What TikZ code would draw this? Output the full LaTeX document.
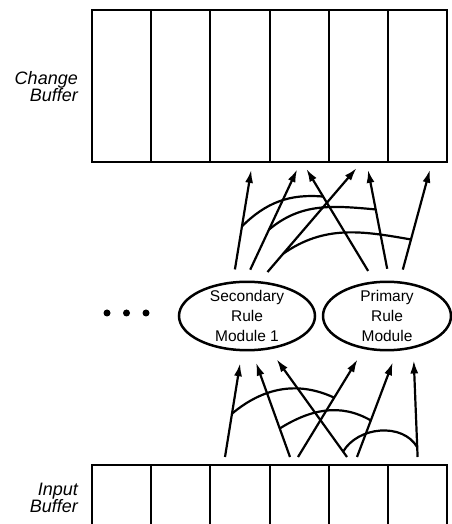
\documentclass[tikz,border=0pt]{standalone}
\usepackage{fontspec}
\setsansfont{Liberation Sans}
\usetikzlibrary{arrows.meta,shapes.geometric}
\tikzset{
    buffer-cell/.style = {draw, line width=1.9pt, rectangle, inner sep=0pt, outer sep=0pt, minimum width=59.2pt},
    buffer-label/.style = {anchor=east, inner sep=0pt, align=right, font=\sffamily\itshape\fontsize{18}{17}\selectfont},
    rule-module/.style = {draw, line width=2.5pt, ellipse, inner xsep=0pt, inner ysep=-1.5pt, minimum height=68pt, align=center, font=\sffamily\fontsize{15.5}{20}\selectfont},
    ellipsis-dot/.style = {circle, fill, inner sep=0pt, minimum size=7pt},
    in-flow/.style = {line width=2.2pt, -{Latex[length=13pt,width=8pt]}, shorten >=12pt},
    out-flow/.style = {line width=2.2pt, -{Latex[length=13pt,width=8pt]}, shorten <=12pt, shorten >=8pt},
    join-arc/.style = {line width=2.2pt},
}

\begin{document}
\begin{tikzpicture}[x=1pt,y=1pt]
\useasboundingbox (0,0) rectangle (451,524);

\foreach \i in {1,...,6} {
    \node[buffer-cell, minimum height=152pt] (cb\i) at ({92+59.2*(\i-0.5)},438) {};
    \node[buffer-cell, minimum height=80pt] (ib\i) at ({92+59.2*(\i-0.5)},19) {};
}
\node[buffer-label] (cb-label) at (78,437) {Change\\Buffer};
\node[buffer-label] (ib-label) at (78,26) {Input\\Buffer};

\node[rule-module, minimum width=136pt] (sec) at (247,208) {Secondary\\Rule\\Module 1};
\node[rule-module, minimum width=128pt] (pri) at (387,208) {Primary\\Rule\\Module};

\foreach \x [count=\k] in {107,126.5,146}
    \node[ellipsis-dot] (dot\k) at (\x,211) {};

% input buffer -> rule modules
\draw[in-flow] ([xshift=-15pt,yshift=8pt]ib3.north) -- coordinate[pos=0.41] (l1) (sec.-98);
\draw[in-flow] ([xshift=-9.2pt,yshift=8pt]ib4.north) -- coordinate[pos=0.27] (l2) (sec.-82);
\draw[in-flow] ([xshift=-11.4pt,yshift=8pt]ib5.north) -- coordinate[pos=0.05] (l3) (sec.-56);
\draw[in-flow] ([xshift=-1.2pt,yshift=8pt]ib4.north) -- coordinate[pos=0.55] (l4) (pri.-125);
\draw[in-flow] ([xshift=-1.4pt,yshift=8pt]ib5.north) -- coordinate[pos=0.345] (l5) (pri.-74);
\draw[in-flow] ([yshift=8pt]ib6.north) -- coordinate[pos=0.09] (l6) (pri.-51);

\draw[join-arc] (l1) to[out=40,in=155] (l4);
\draw[join-arc] (l2) to[out=32,in=150] (l5);
\draw[join-arc] (l3) to[out=60,in=120] (l6);

% rule modules -> change buffer
\draw[out-flow] (sec.112) -- coordinate[pos=0.46] (u1) ([xshift=12.5pt]cb3.south);
\draw[out-flow] (sec.93) -- coordinate[pos=0.43] (u2) ([xshift=1.4pt]cb4.south);
\draw[out-flow] (sec.70) -- coordinate[pos=0.23] (u3) ([xshift=3.4pt]cb5.south);
\draw[out-flow] (pri.110) -- coordinate[pos=0.71] (u4) ([xshift=3pt]cb4.south);
\draw[out-flow] (pri.86) -- coordinate[pos=0.6] (u5) ([xshift=8.1pt]cb5.south);
\draw[out-flow] (pri.70) -- coordinate[pos=0.35] (u6) ([xshift=14.4pt]cb6.south);

\draw[join-arc] (u1) to[out=45,in=175] (u4);
\draw[join-arc] (u2) to[out=40,in=175] (u5);
\draw[join-arc] (u3) to[out=35,in=170] (u6);
\end{tikzpicture}
\end{document}
